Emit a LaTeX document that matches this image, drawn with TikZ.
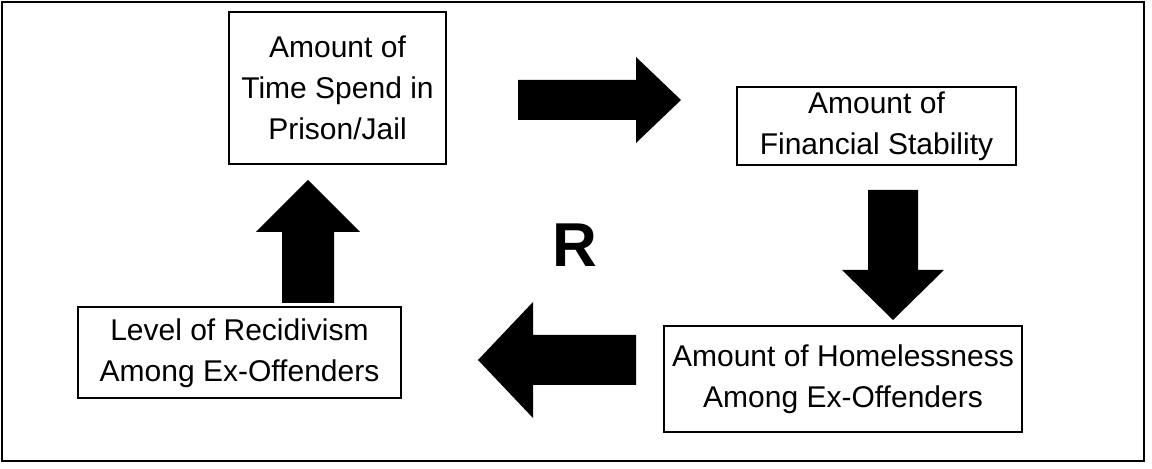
\documentclass[tikz,border=0pt]{standalone}
\usepackage{fontspec}
\setmainfont{Liberation Sans}
\usetikzlibrary{calc}
\tikzset{
  loopbox/.style={draw,line width=1pt,inner sep=0pt,align=center,font=\fontsize{15}{20.5}\selectfont},
  fatarrow/.style={fill=black}
}
% block arrow: tail, tip, shaft half, head half, head length
\newcommand{\blockarrow}[5]{%
  \coordinate (hb) at ($(#2)!#5!(#1)$);
  \fill[fatarrow] ($(#1)!#3!90:(#2)$) -- ($(hb)!#3!90:(#2)$) -- ($(hb)!#4!90:(#2)$) -- (#2)
    -- ($(hb)!#4!-90:(#2)$) -- ($(hb)!#3!-90:(#2)$) -- ($(#1)!#3!-90:(#2)$) -- cycle;
}

\begin{document}
\begin{tikzpicture}[x=0.5pt,y=-0.5pt]  % 1 unit = 1 px, y down
  \useasboundingbox (0,0) rectangle (1152,469);
  \draw[line width=1.2pt] (2,2) rectangle (1144,461);
  % ---- the four boxes
  \node[loopbox,minimum width=108.5pt,minimum height=76pt] (time) at (337.5,88) {Amount of\\Time Spend in\\Prison/Jail};
  \node[loopbox,minimum width=139.5pt,minimum height=39pt] (fin) at (876.5,126) {Amount of\\Financial Stability};
  \node[loopbox,minimum width=179pt,minimum height=53pt] (home) at (843,379) {Amount of Homelessness\\Among Ex-Offenders};
  \node[loopbox,minimum width=161.5pt,minimum height=45.5pt] (recid) at (239.5,353) {Level of Recidivism\\Among Ex-Offenders};
  \node[font=\fontsize{31}{36}\selectfont\bfseries] (loopR) at (575,245) {R};
  % ---- arrow ends
  \coordinate (timeout) at (518,100);  \coordinate (finin) at (681,100);
  \coordinate (finout) at (893,190);   \coordinate (homein) at (893,320);
  \coordinate (homeout) at (636,360);  \coordinate (recidin) at (478,360);
  \coordinate (recidout) at (308,303); \coordinate (timein) at (308,180);
  % ---- block arrows
  \blockarrow{timeout}{finin}{10pt}{21.5pt}{22.5pt}
  \blockarrow{finout}{homein}{12.5pt}{25.5pt}{25pt}
  \blockarrow{homeout}{recidin}{12.5pt}{29pt}{27.5pt}
  \blockarrow{recidout}{timein}{13pt}{26pt}{26pt}
\end{tikzpicture}
\end{document}
